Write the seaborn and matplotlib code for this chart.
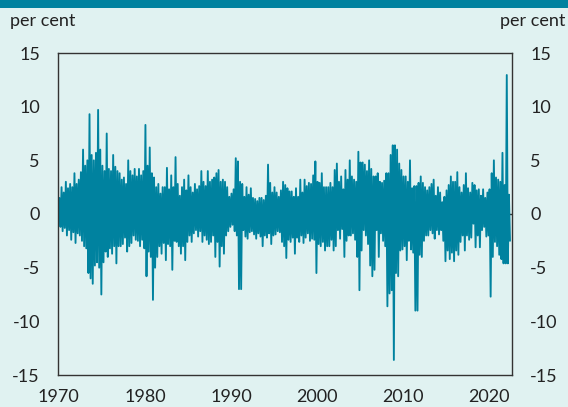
import numpy as np
import pandas as pd
import matplotlib
matplotlib.use("Agg")
import matplotlib.pyplot as plt
import seaborn as sns
from matplotlib.patches import Rectangle

# ---- data: quarterly high / low envelope of the per-cent changes ----
start_year = 1970.0
step_years = 0.25

quarter_highs = [
    1.5, 2.5, 2.0, 3.0, 2.4, 2.8, 2.5, 3.8, 2.8, 3.2,
    3.9, 6.0, 4.5, 5.0, 9.3, 5.5, 5.0, 5.7, 9.7, 6.0,
    4.5, 4.0, 7.5, 4.2, 4.0, 5.5, 4.4, 4.0, 3.8, 3.2,
    3.4, 2.8, 5.0, 4.0, 3.6, 4.2, 3.5, 4.2, 3.6, 4.0,
    8.3, 4.5, 6.2,
    3.8, 3.4, 2.5, 2.8, 1.9, 2.5, 2.5, 4.3, 2.3, 3.6,
    2.5, 5.3, 2.8, 1.7, 2.5, 3.2, 2.2, 3.6, 2.5, 2.0,
    2.8, 2.3, 2.6, 4.0, 3.0, 2.6, 4.0, 3.0, 3.2, 3.4,
    3.8, 4.1, 3.0, 3.2, 3.0, 2.5, 1.6, 1.9, 2.3, 5.2,
    4.9, 3.0, 2.8,
    1.6, 2.5, 1.8, 2.4, 1.5, 1.4, 1.2, 1.5, 1.5, 1.3,
    1.7, 4.6, 2.9, 2.0, 2.5, 2.0, 1.6, 2.2, 3.0, 2.7,
    2.4, 2.1, 2.1, 1.6, 2.4, 1.6, 3.2, 2.0, 3.2, 2.6,
    2.9, 2.8, 3.6, 4.9, 3.0, 2.9, 3.8, 2.5, 2.5, 2.5,
    2.9, 2.5,
    4.1, 4.7, 3.0, 3.5, 2.3, 4.1, 3.2, 5.0, 3.5, 3.2,
    3.0, 5.8, 4.8, 4.8, 4.6, 4.0, 5.0, 4.2, 3.5, 3.5,
    3.8, 3.0, 2.9, 3.1, 3.8, 3.8, 5.5, 6.4, 6.4, 6.0,
    4.7, 4.1, 3.5, 3.5, 3.0, 5.0, 2.4, 2.6, 2.6, 2.9,
    3.5, 2.9, 2.5,
    2.2, 2.5, 2.8, 3.2, 1.7, 2.5, 2.0, 1.1, 1.6, 2.2,
    2.7, 3.5, 3.0, 3.0, 3.9, 2.5, 2.0, 2.7, 3.8, 2.4,
    2.0, 2.9, 2.7, 2.2, 2.3, 1.7, 2.3, 1.5, 2.0, 2.3,
    3.8, 5.0, 3.4, 3.2, 3.0, 5.7, 2.7, 12.95, 1.8,
]

quarter_lows = [
    -1.2, -1.6, -1.3, -2.0, -1.5, -2.4, -1.7, -2.7, -1.8, -2.0,
    -2.5, -3.0, -3.2, -5.5, -6.0, -6.5, -4.8, -4.5, -5.0, -7.5,
    -4.5, -3.5, -4.0, -3.2, -3.7, -3.0, -4.6, -3.0, -3.0, -2.8,
    -2.2, -3.5, -3.0, -2.7, -2.0, -2.4, -2.5, -3.0, -2.4, -3.2,
    -5.8, -3.5, -4.0,
    -8.0, -5.0, -4.0, -3.0, -3.7, -2.7, -4.3, -2.8, -3.0, -5.2,
    -2.5, -2.6, -3.0, -3.7, -3.0, -4.3, -2.6, -2.0, -2.6, -1.8,
    -1.5, -2.1, -1.6, -2.6, -2.0, -2.4, -2.8, -2.6, -2.0, -4.0,
    -2.6, -4.9, -3.0, -3.7, -2.0, -1.6, -1.2, -1.0, -1.6, -2.0,
    -7.0, -7.0, -1.5,
    -2.1, -2.3, -1.7, -1.6, -1.9, -2.3, -1.8, -2.1, -3.0, -2.0,
    -2.2, -1.8, -2.8, -2.0, -1.9, -1.6, -1.7, -2.6, -3.0, -4.1,
    -2.4, -2.6, -2.2, -3.7, -2.2, -2.6, -2.0, -2.7, -2.2, -1.8,
    -2.5, -2.3, -2.4, -5.5, -2.8, -3.0, -2.6, -3.4, -3.0, -3.0,
    -2.4, -3.4,
    -3.0, -1.5, -2.3, -1.4, -4.0, -2.5, -2.0, -2.0, -1.8, -2.4,
    -4.0, -7.1, -3.4, -1.5, -2.0, -2.8, -4.8, -5.8, -5.2, -1.5,
    -4.0, -1.8, -2.5, -3.0, -8.6, -7.4, -7.1, -13.6, -5.5, -5.8,
    -3.4, -3.3, -3.0, -4.3, -2.5, -3.3, -3.6, -9.0, -9.0, -3.8,
    -4.0, -2.5, -2.0,
    -2.0, -1.5, -1.8, -2.3, -1.5, -1.9, -1.5, -2.5, -4.4, -3.4,
    -4.2, -3.6, -4.4, -3.4, -3.8, -2.6, -2.0, -3.4, -2.0, -2.4,
    -2.2, -0.9, -3.1, -2.0, -3.1, -1.5, -1.2, -2.1, -2.0, -7.7,
    -4.0, -2.6, -3.0, -3.8, -4.2, -4.6, -4.6, -4.6, -2.5,
]

x_ticks = [1970, 1980, 1990, 2000, 2010, 2020]
y_ticks = [-15, -10, -5, 0, 5, 10, 15]
unit_label = "per cent"

# interleave high and low of each quarter into one series
dates, values = [], []
for i, (hi, lo) in enumerate(zip(quarter_highs, quarter_lows)):
    t0 = start_year + i * step_years
    dates += [t0 + step_years * 0.25, t0 + step_years * 0.75]
    values += [hi, lo]
df = pd.DataFrame({"date": dates, "value": values})

# ---- style ----
BG = "#e0f2f1"
TEAL = "#00829f"
INK = "#222222"

sns.set_theme(style="white")
plt.rcParams["font.family"] = ["Lato", "DejaVu Sans"]

W, H = 568, 407
fig = plt.figure(figsize=(W / 100, H / 100), dpi=100, facecolor=BG)
ax = fig.add_axes([58 / W, 1 - 375 / H, 454 / W, 322 / H])
ax.set_facecolor(BG)

ax.axhline(0, color="#333333", lw=1.0, zorder=1)
sns.lineplot(data=df, x="date", y="value", color=TEAL, linewidth=1.35,
             ax=ax, zorder=2, sort=True)

ax.set_xlim(1969.9, 2022.67)
ax.set_ylim(-15, 15)
ax.set_xticks(x_ticks)
ax.set_yticks(y_ticks)
ax.set_xticklabels([str(v) for v in x_ticks])
ax.set_yticklabels([str(v) for v in y_ticks])
ax.set_xlabel("")
ax.set_ylabel("")
ax.tick_params(axis="both", length=0, labelsize=13, colors=INK)
ax.tick_params(axis="y", labelleft=True, labelright=True, pad=13)
ax.tick_params(axis="x", pad=10)
for s in ax.spines.values():
    s.set_visible(True)
    s.set_color("#333333")
    s.set_linewidth(1.0)

# unit labels
fig.text(10 / W, 1 - 21 / H, unit_label, ha="left", va="center",
         fontsize=13, color=INK)
fig.text(565 / W, 1 - 21 / H, unit_label, ha="right", va="center",
         fontsize=13, color=INK)

# teal band at the top
fig.add_artist(Rectangle((0, 1 - 8 / H), 1, 8 / H, transform=fig.transFigure,
                         color=TEAL, lw=0))

fig.savefig("out.png", dpi=100, facecolor=BG)
